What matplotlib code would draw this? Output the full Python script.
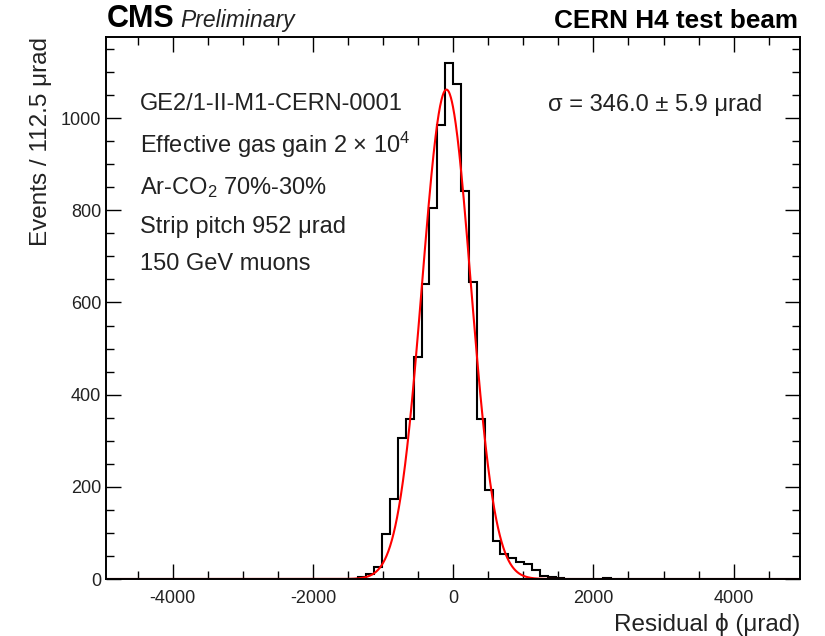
import numpy as np
import matplotlib
matplotlib.use("Agg")
import matplotlib.pyplot as plt
from matplotlib.ticker import MultipleLocator

plt.rcParams['font.family'] = ['Liberation Sans', 'DejaVu Sans']
plt.rcParams['mathtext.fontset'] = 'custom'
plt.rcParams['mathtext.rm'] = 'Liberation Sans'
plt.rcParams['mathtext.it'] = 'Liberation Sans:italic'
plt.rcParams['mathtext.bf'] = 'Liberation Sans:bold'
plt.rcParams['axes.unicode_minus'] = False

# binning: 88 bins of 112.5 urad
x_min = -4950
bin_width = 112.5
n_bins = 88

# central part of the histogram, starting at -1462.5 urad
core_start = -1462.5
core_counts = [1, 4, 10, 26, 97, 174, 307, 348, 482, 641, 804, 985, 1120,
               1075, 842, 645, 348, 194, 82, 55, 45, 38, 33, 19, 7, 4, 2, 1]

# isolated entries in the far tails (bin centres, urad)
tail_centres = [-4218.75, -3768.75, -3318.75, -3093.75, -2868.75, -2531.25, -2306.25, 2193.75, 3543.75]
tail_counts = [1, 1, 1, 1, 1, 1, 1, 2, 1]

# gaussian fit
fit_amp = 1062
fit_mean = -95
fit_sigma = 346.0

edges = x_min + bin_width * np.arange(n_bins + 1)
counts = np.zeros(n_bins)
i0 = int(round((core_start - x_min) / bin_width))
counts[i0:i0 + len(core_counts)] = core_counts
for c, n in zip(tail_centres, tail_counts):
    counts[int((c - x_min) // bin_width)] += n

fig = plt.figure(figsize=(8.25, 6.36), dpi=100)
ax = fig.add_axes([0.1285, 0.0896, 0.8415, 0.8522])

ax.stairs(counts, edges, color='black', linewidth=1.5)

xf = np.linspace(edges[0], edges[-1], 2000)
ax.plot(xf, fit_amp * np.exp(-0.5 * ((xf - fit_mean) / fit_sigma) ** 2), color='red', linewidth=1.5)

ax.set_xlim(edges[0], edges[-1])
ax.set_ylim(0, 1176)

ax.xaxis.set_major_locator(MultipleLocator(2000))
ax.xaxis.set_minor_locator(MultipleLocator(500))
ax.yaxis.set_major_locator(MultipleLocator(200))
ax.yaxis.set_minor_locator(MultipleLocator(50))
ax.tick_params(which='both', direction='in', top=True, right=True, labelsize=13, colors='black',
               labelcolor='#222222')
ax.tick_params(which='major', length=11, width=1)
ax.tick_params(which='minor', length=5.5, width=1)
ax.tick_params(axis='x', pad=8)
for s in ax.spines.values():
    s.set_linewidth(1.4)

ax.set_xlabel('Residual ϕ (μrad)', loc='right', fontsize=17.5, color='#222222')
ax.set_ylabel('Events / 112.5 μrad', loc='top', fontsize=17.5, labelpad=6, color='#222222')

# header
fig.text(0.129, 0.958, 'CMS', fontsize=22, fontweight='bold', ha='left', va='baseline')
fig.text(0.218, 0.958, 'Preliminary', fontsize=16.5, style='italic', ha='left', va='baseline',
         color='#222222')
fig.text(0.967, 0.956, 'CERN H4 test beam', fontsize=18.8, fontweight='bold', ha='right', va='baseline')

# info text
info = ['GE2/1-II-M1-CERN-0001',
        'Effective gas gain 2 × 10$^{4}$',
        'Ar-CO$_{2}$ 70%-30%',
        'Strip pitch 952 μrad',
        '150 GeV muons']
info_base = [110, 152.5, 194.5, 232.5, 270.5]
for t, yb in zip(info, info_base):
    fig.text(140 / 825, 1 - yb / 636, t, fontsize=17, ha='left', va='baseline', color='#222222')

fig.text(548 / 825, 1 - 110.5 / 636, 'σ = 346.0 ± 5.9 μrad', fontsize=17, ha='left', va='baseline',
         color='#222222')

fig.savefig('out.png', dpi=100)
